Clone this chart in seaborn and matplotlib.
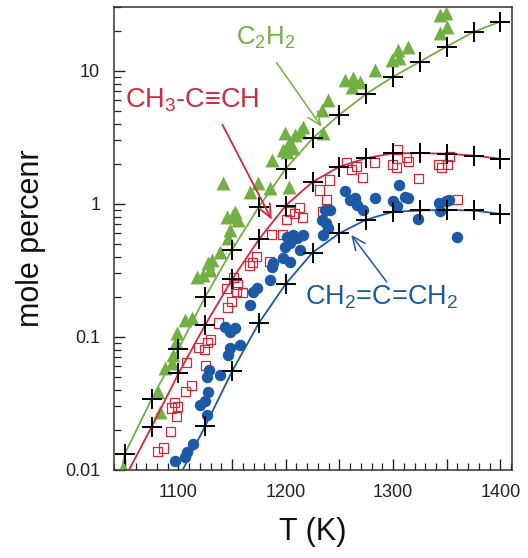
import numpy as np
import pandas as pd
import matplotlib
matplotlib.use("Agg")
import matplotlib.pyplot as plt
from matplotlib.ticker import FixedLocator, LogLocator, NullFormatter, FixedFormatter
import seaborn as sns

# ---------------- data ----------------
# model (crosses)
c2h2_model_T = [1050, 1075, 1100, 1125, 1150, 1175, 1200, 1225, 1250, 1275, 1300, 1325, 1350, 1375, 1400]
c2h2_model_v = [0.0132, 0.034, 0.081, 0.20, 0.45, 0.95, 1.83, 3.1, 4.67, 6.7, 9.0, 11.7, 15.2, 19.6, 23.4]

pro_model_T = [1075, 1100, 1125, 1150, 1175, 1200, 1225, 1250, 1275, 1300, 1325, 1350, 1375, 1400]
pro_model_v = [0.021, 0.053, 0.123, 0.27, 0.54, 0.97, 1.46, 1.9, 2.2, 2.4, 2.4, 2.38, 2.3, 2.18]

all_model_T = [1125, 1150, 1175, 1200, 1225, 1250, 1275, 1300, 1325, 1350, 1375, 1400]
all_model_v = [0.0214, 0.055, 0.127, 0.25, 0.43, 0.60, 0.76, 0.87, 0.89, 0.90, 0.89, 0.84]

# where each model curve meets the bottom axis
c2h2_line_start = (1047, 0.0100)
pro_line_start = (1054, 0.0100)
all_line_start = (1104, 0.0100)

# experiment: C2H2 (triangles)
c2h2_exp_T = [1048, 1082.6, 1080.7, 1087.2, 1093.8, 1094.7, 1097.5, 1098.4, 1105.9, 1112.4,
              1117, 1122.6, 1127.3, 1129, 1131, 1138.5, 1146, 1147.8, 1145, 1150.6,
              1152.4, 1155.2, 1141.2, 1166.4, 1173.8, 1185, 1202.7, 1186.9, 1197, 1200.8,
              1199, 1203.6, 1208.3, 1213, 1215.7, 1200.8, 1206.4, 1234.4, 1233.4, 1239,
              1254.8, 1262.3, 1268.8, 1261.4, 1282.8, 1298.6, 1304.2, 1313.5, 1306, 1343.3,
              1350.7, 1343.3, 1349.8]
c2h2_exp_v = [0.0103, 0.0273, 0.0386, 0.0585, 0.0638, 0.0733, 0.0917, 0.107, 0.134, 0.139,
              0.283, 0.292, 0.36, 0.319, 0.379, 0.435, 0.555, 0.638, 0.80, 0.826,
              0.87, 0.758, 1.44, 1.23, 1.44, 1.32, 1.34, 2.14, 2.55, 2.68,
              3.42, 2.93, 3.30, 3.48, 3.79, 2.46, 2.64, 3.42, 5.09, 6.05,
              8.56, 8.85, 8.26, 7.59, 10.2, 12.1, 14.4, 15.1, 12.5, 19.3,
              21.4, 26.4, 27.3]

# experiment: CH3-C≡CH (open squares)
pro_exp_T = [1080.7, 1086.3, 1092.8, 1098.4, 1093.8, 1096.6, 1099.3, 1106.8, 1112.4, 1107.7,
             1125.4, 1118.9, 1124.5, 1127.3, 1130, 1137.5, 1145.9, 1149.6, 1154.3, 1145,
             1151.5, 1159.9, 1155.2, 1169.2, 1172.9, 1166.4, 1185, 1186.9, 1197.1, 1200.8,
             1203.6, 1208.3, 1213, 1215.7, 1234.4, 1231.6, 1238, 1240.9, 1256.7, 1261.4,
             1266, 1271.6, 1282.8, 1299.5, 1303.3, 1304.2, 1312.6, 1314.4, 1323.7, 1342.4,
             1345.2, 1350.7, 1352.6, 1360]
pro_exp_v = [0.0137, 0.0146, 0.0193, 0.0251, 0.0292, 0.0319, 0.0298, 0.0386, 0.0428, 0.0638,
             0.0605, 0.0827, 0.0798, 0.0902, 0.095, 0.127, 0.165, 0.183, 0.218, 0.23,
             0.278, 0.214, 0.246, 0.36, 0.40, 0.342, 0.366, 0.585, 0.585, 0.758,
             0.871, 0.841, 0.933, 0.785, 0.871, 1.27, 1.07, 1.51, 2.03, 1.80,
             1.90, 1.57, 2.03, 1.96, 1.87, 2.55, 2.22, 2.07, 1.54, 1.96,
             1.87, 1.96, 2.26, 1.07]

# experiment: CH2=C=CH2 (filled circles)
all_exp_T = [1096.6, 1105.9, 1107.7, 1113.3, 1126.4, 1119.8, 1124.5, 1127.3, 1126.4, 1128.2,
             1138.5, 1145.9, 1147.8, 1143.1, 1147.8, 1152.4, 1157.1, 1166.4, 1169.2, 1172.9,
             1185, 1186.9, 1187.8, 1197.1, 1203.6, 1199, 1203.6, 1200.8, 1206.4, 1213,
             1215.7, 1210.1, 1233.4, 1237.2, 1239, 1234.4, 1236.2, 1240.9, 1254.8, 1259.5,
             1264.2, 1266, 1271.6, 1282.8, 1299.5, 1303.3, 1305.1, 1310.7, 1313.5, 1323.7,
             1342.4, 1344.2, 1349.8, 1352.6, 1360]
all_exp_v = [0.0117, 0.0125, 0.0137, 0.0157, 0.0259, 0.0308, 0.033, 0.0386, 0.050, 0.0565,
             0.0518, 0.0733, 0.0827, 0.119, 0.109, 0.117, 0.087, 0.174, 0.218, 0.233,
             0.268, 0.336, 0.36, 0.393, 0.366, 0.475, 0.509, 0.565, 0.585, 0.451,
             0.585, 0.555, 0.758, 0.72, 0.66, 0.585, 0.90, 0.90, 1.25, 1.07,
             1.11, 0.98, 0.90, 1.11, 1.04, 0.966, 1.39, 1.13, 1.11, 0.771,
             1.02, 0.886, 1.04, 1.07, 0.565]

x_major = [1050, 1100, 1150, 1200, 1250, 1300, 1350, 1400]
x_labels = ["", "1100", "", "1200", "", "1300", "", "1400"]
y_major = [0.01, 0.1, 1, 10]
y_labels = ["0.01", "0.1", "1", "10"]

GREEN = "#72b043"
RED = "#d6283b"
BLUE = "#1d5aa6"

# ---------------- style ----------------
sns.set_theme(style="white")
plt.rcParams["font.family"] = ["Liberation Sans", "DejaVu Sans"]
plt.rcParams["mathtext.fontset"] = "custom"
plt.rcParams["mathtext.rm"] = "Liberation Sans"
plt.rcParams["mathtext.it"] = "Liberation Sans"

fig = plt.figure(figsize=(5.28, 5.58), dpi=100)
ax = fig.add_axes([0.216, 0.158, 0.754, 0.829])

# experimental points
sns.scatterplot(x=c2h2_exp_T, y=c2h2_exp_v, marker="^", s=100, color=GREEN,
                edgecolor=GREEN, linewidth=0, ax=ax, zorder=2)
sns.scatterplot(x=pro_exp_T, y=pro_exp_v, marker="s", s=44, facecolor="none",
                edgecolor=RED, linewidth=0.9, ax=ax, zorder=2)
sns.scatterplot(x=all_exp_T, y=all_exp_v, marker="o", s=68, color=BLUE,
                edgecolor=BLUE, linewidth=0, ax=ax, zorder=2)

# model curves
for start, T, v, col in [(c2h2_line_start, c2h2_model_T, c2h2_model_v, GREEN),
                         (pro_line_start, pro_model_T, pro_model_v, RED),
                         (all_line_start, all_model_T, all_model_v, BLUE)]:
    df = pd.DataFrame({"T": [start[0]] + T, "v": [start[1]] + v})
    sns.lineplot(data=df, x="T", y="v", color=col, lw=1.3, sort=False,
                 estimator=None, ax=ax, zorder=3)
    sns.scatterplot(x=T, y=v, marker="+", s=220, color="black", linewidth=1.4,
                    ax=ax, zorder=4)

ax.set_yscale("log")
ax.set_xlim(1040, 1411)
ax.set_ylim(0.01, 30)

ax.xaxis.set_major_locator(FixedLocator(x_major))
ax.xaxis.set_major_formatter(FixedFormatter(x_labels))
ax.xaxis.set_minor_locator(FixedLocator(list(range(1040, 1411, 10))))
ax.yaxis.set_major_locator(FixedLocator(y_major))
ax.yaxis.set_major_formatter(FixedFormatter(y_labels))
ax.yaxis.set_minor_locator(LogLocator(base=10, subs=np.arange(2, 10)))
ax.yaxis.set_minor_formatter(NullFormatter())

ax.tick_params(axis="both", which="both", direction="in", top=False, right=False,
               bottom=True, left=True, colors="#222222", labelsize=13, pad=10)
ax.tick_params(which="major", length=8, width=1.0)
ax.tick_params(which="minor", length=5, width=0.9)
for sp in ax.spines.values():
    sp.set_color("#333333")
    sp.set_linewidth(1.1)

ax.set_xlabel("T (K)", fontsize=22, labelpad=12, color="#111111")
ax.set_ylabel("mole percenr", fontsize=22, labelpad=14, color="#111111")

# annotations
arrow_style = "->,head_length=0.8,head_width=0.35"
ax.annotate("", xy=(1233.4, 3.79), xytext=(1191.5, 11.5), zorder=6,
            arrowprops=dict(arrowstyle=arrow_style, color=GREEN, lw=1.1,
                            shrinkA=0, shrinkB=0))
ax.text(1154, 15.7, r"C$_2$H$_2$", color=GREEN, fontsize=18.5, va="baseline", ha="left", zorder=6)

ax.annotate("", xy=(1187, 0.758), xytext=(1141, 3.93), zorder=6,
            arrowprops=dict(arrowstyle=arrow_style, color=RED, lw=1.3,
                            shrinkA=0, shrinkB=0))
ax.text(1050, 5.27, r"CH$_3$-C≡CH", color=RED, fontsize=19.5, va="baseline", ha="left", zorder=6)

ax.annotate("", xy=(1261, 0.585), xytext=(1294, 0.259), zorder=6,
            arrowprops=dict(arrowstyle=arrow_style, color=BLUE, lw=1.1,
                            shrinkA=0, shrinkB=0))
ax.text(1217.6, 0.174, r"CH$_2$=C=CH$_2$", color=BLUE, fontsize=19.5, va="baseline", ha="left", zorder=6)

fig.savefig("out.png", dpi=100)
